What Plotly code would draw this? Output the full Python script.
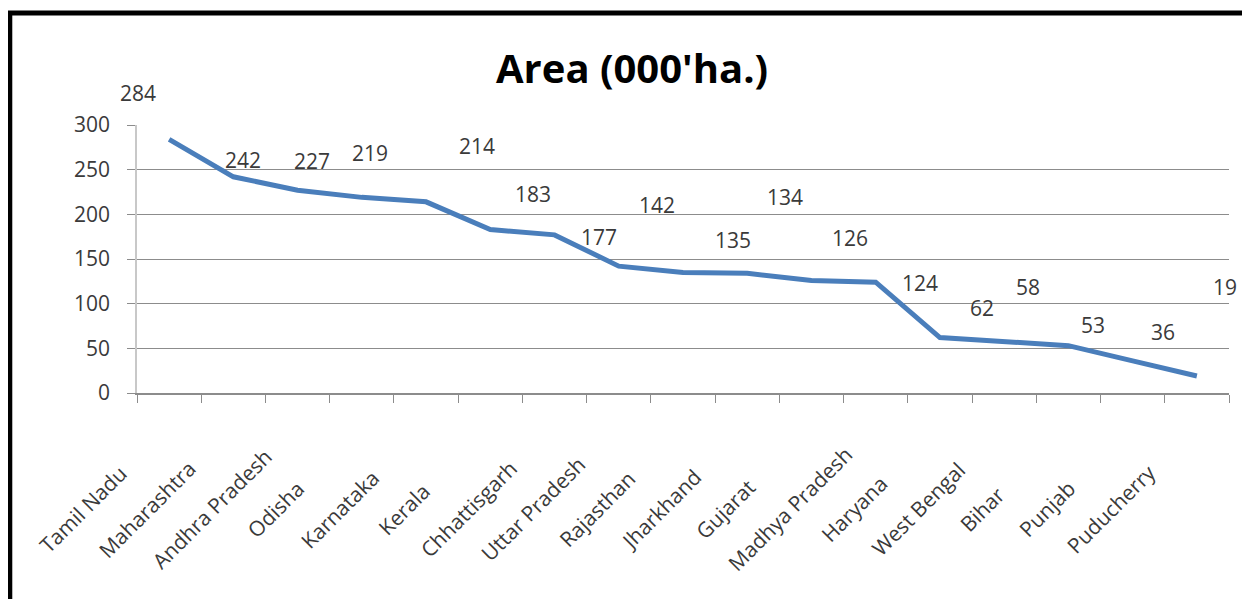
import plotly.graph_objects as go

categories = ["Tamil Nadu", "Maharashtra", "Andhra Pradesh", "Odisha", "Karnataka",
              "Kerala", "Chhattisgarh", "Uttar Pradesh", "Rajasthan", "Jharkhand",
              "Gujarat", "Madhya Pradesh", "Haryana", "West Bengal", "Bihar",
              "Punjab", "Puducherry"]
area = [284, 242, 227, 219, 214, 183, 177, 142, 135, 134, 126, 124, 62, 58, 53, 36, 19]
y_ticks = [0, 50, 100, 150, 200, 250, 300]

# label offsets (pixels) as placed in the original chart
label_dx = [-31, 10, 14, 8, 51, 43, 44, 38, 50, 38, 39, 44, 42, 24, 25, 30, 28]
label_dy = [46, 17, 29, 44, 56, 36, -2, 61, 32, 76, 42, -1, 30, 54, 21, 29, 89]

FONT = "Open Sans"
TXT = "#3a3a3a"

fig = go.Figure()
fig.add_trace(go.Scatter(
    x=categories, y=area, mode="lines",
    line=dict(color="#4A7EBB", width=5),
    showlegend=False, hoverinfo="x+y",
))

annotations = []
for c, v, dx, dy in zip(categories, area, label_dx, label_dy):
    annotations.append(dict(
        x=c, y=v, xref="x", yref="y", text=str(v), showarrow=False,
        xanchor="center", yanchor="middle", xshift=dx, yshift=dy,
        font=dict(family=FONT, size=21, color=TXT),
    ))
for c in categories:
    annotations.append(dict(
        x=c, y=0, xref="x", yref="paper", text=c, showarrow=False,
        textangle=-45, xanchor="center", yanchor="middle",
        xshift=-86, yshift=-116,
        font=dict(family=FONT, size=21, color=TXT),
    ))
annotations.append(dict(
    x=0.453, y=1.213, xref="paper", yref="paper", text="<b>Area (000'ha.)</b>",
    showarrow=False, xanchor="center", yanchor="middle",
    font=dict(family=FONT, size=40, color="#000000"),
))

fig.update_layout(
    width=1250, height=599,
    margin=dict(l=129, r=29, t=117, b=214),
    paper_bgcolor="white", plot_bgcolor="white",
    annotations=annotations,
    shapes=[dict(type="rect", xref="paper", yref="paper",
                 x0=-0.1165, x1=1.03, y0=-0.80, y1=1.418,
                 line=dict(color="black", width=5), layer="above")],
    xaxis=dict(
        type="category", range=[-0.5, len(categories) - 0.5],
        showgrid=False, showline=True, linecolor="#8c8c8c", linewidth=1.5,
        ticks="outside", ticklen=8, tickcolor="#8c8c8c", tickson="boundaries",
        showticklabels=False, zeroline=False,
    ),
    yaxis=dict(
        range=[0, 300], tickvals=y_ticks, showgrid=True, gridcolor="#8c8c8c",
        gridwidth=1.2, showline=True, linecolor="#c8c8c8", linewidth=1.5,
        ticks="outside", ticklen=8, tickcolor="#8c8c8c", zeroline=False,
        ticklabelstandoff=13,
        tickfont=dict(family=FONT, size=21, color=TXT),
    ),
)

fig.write_html("out.html")
